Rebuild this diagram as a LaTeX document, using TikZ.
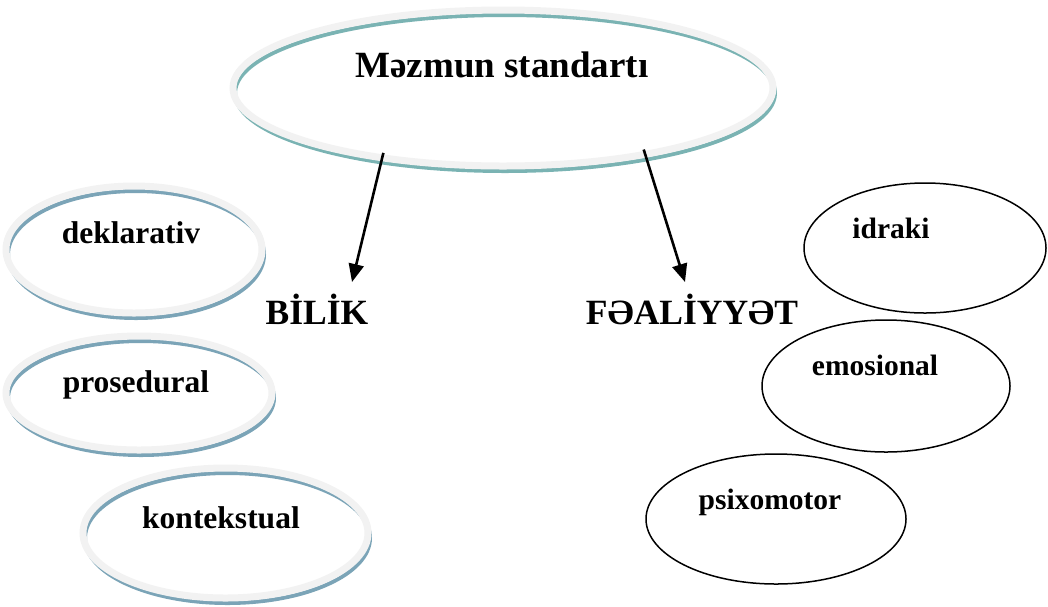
\documentclass[tikz,border=0pt]{standalone}
\usepackage{fontspec}
\setmainfont{Liberation Serif}
\usepackage{tikz}
\usetikzlibrary{arrows.meta, shapes.geometric}
\definecolor{tealrim}{HTML}{7AB3B3}
\definecolor{steelrim}{HTML}{7BA4B7}
\definecolor{band}{HTML}{F2F2F2}
\tikzset{
    every node/.style={inner sep=0pt, outer sep=0pt}
}
\tikzset{
    ring/.style={ellipse, fill=white,
        postaction={draw=#1, line width=4pt, transform canvas={shift={(2,5)}}},
        postaction={draw=band, line width=7pt}},
    thin/.style={ellipse, draw, fill=white, line width=1.5pt}
}
\tikzset{
    title/.style={anchor=base, font=\bfseries\fontsize{37}{44}\selectfont},
    head/.style={anchor=base, font=\bfseries\fontsize{35.5}{42}\selectfont},
    lblL/.style={anchor=base, font=\bfseries\fontsize{31.5}{38}\selectfont},
    lblR/.style={anchor=base, font=\bfseries\fontsize{29.5}{36}\selectfont}
}
\tikzset{
    arr/.style={-{Triangle[length=18pt, width=15pt]}, line width=2.6pt,
        shorten <=-5pt}
}

\begin{document}
\begin{tikzpicture}[x=1pt, y=-1pt]
  \useasboundingbox (0, 0) rectangle (1048, 606);
  \node (1) [ring=tealrim, minimum width=540pt, minimum height=156pt] at (503, 88) {};
  \node (2) [title] at (502, 77) {Məzmun standartı};
  \node (3) [head] at (317, 324) {BİLİK};
  \node (4) [head] at (692, 324) {FƏALİYYƏT};

  \node (5) [ring=steelrim, minimum width=256pt, minimum height=127pt] at (134, 249.5) {};
  \node (6) [lblL] at (131, 243) {deklarativ};
  \node (7) [ring=steelrim, minimum width=266pt, minimum height=114pt] at (139, 393) {};
  \node (8) [lblL] at (136, 392) {prosedural};
  \node (9) [ring=steelrim, minimum width=285pt, minimum height=130pt] at (225.5, 533) {};
  \node (10) [lblL] at (221, 528) {kontekstual};

  \node (11) [thin, minimum width=242pt, minimum height=130pt] at (925, 248) {};
  \node (12) [lblR] at (891, 238) {idraki};
  \node (13) [thin, minimum width=248pt, minimum height=132pt] at (886, 386) {};
  \node (14) [lblR] at (875, 375) {emosional};
  \node (15) [thin, minimum width=260pt, minimum height=130pt] at (776, 519) {};
  \node (16) [lblR] at (770, 509) {psixomotor};

  \coordinate (17) at (352, 282);
  \coordinate (18) at (685, 282);

  \draw (1.210) edge [arr] (17);
  \draw (1.335) edge [arr] (18);
\end{tikzpicture}
\end{document}
